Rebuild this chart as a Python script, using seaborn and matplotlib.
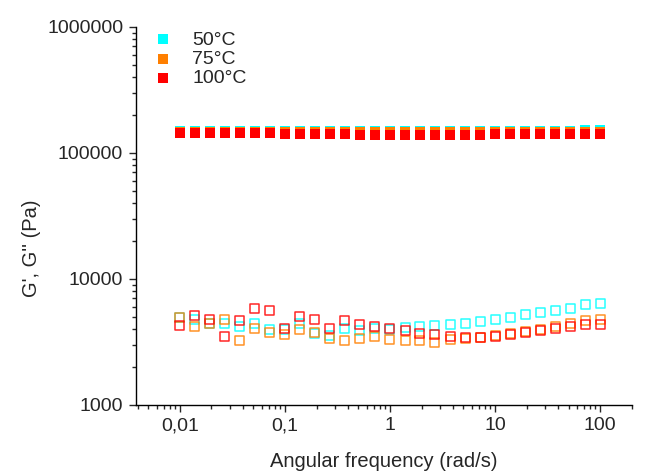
import matplotlib
matplotlib.use("Agg")
import matplotlib.pyplot as plt
import matplotlib.ticker as mticker
import pandas as pd
import seaborn as sns

# angular frequency sweep, 7 points per decade
freq = [0.01, 0.0139, 0.0193, 0.0268, 0.0373, 0.0518, 0.0720,
        0.1, 0.139, 0.193, 0.268, 0.373, 0.518, 0.720,
        1, 1.39, 1.93, 2.68, 3.73, 5.18, 7.20,
        10, 13.9, 19.3, 26.8, 37.3, 51.8, 72.0, 100]

temps = ["50°C", "75°C", "100°C"]
colors = ["#00FFFF", "#FF7F00", "#FF0000"]

# storage modulus G'
g1_50 = [149000] * 27 + [151000, 151000]
g1_75 = [145500] * 29
g1_100 = [145000, 145000, 145000, 145000, 144000, 144000, 143000, 142000,
          142000, 141000, 141000, 141000, 140000, 140000, 140000, 140000,
          140000, 140000, 140000, 140000, 140000, 141000, 141000, 141000,
          141000, 141000, 141000, 141000, 141000]

# loss modulus G''
g2_50 = [4950, 4810, 4470, 4440, 4190, 4470, 3960, 3940, 4440, 3660,
         3550, 4060, 3890, 4010, 3940, 4130, 4210, 4310, 4390, 4470,
         4610, 4750, 4950, 5200, 5370, 5600, 5840, 6240, 6390]
g2_75 = [4950, 4190, 4470, 4810, 3240, 4060, 3770, 3620, 3960, 3770,
         3380, 3240, 3380, 3510, 3300, 3240, 3240, 3150, 3280, 3340,
         3450, 3550, 3660, 3840, 3940, 4210, 4440, 4720, 4810]
g2_100 = [4260, 5110, 4750, 3480, 4670, 5840, 5660, 4010, 5050, 4750,
          4060, 4670, 4390, 4210, 4010, 3890, 3710, 3600, 3510, 3450,
          3450, 3510, 3600, 3730, 3890, 4060, 4210, 4390, 4390]

g1 = [g1_50, g1_75, g1_100]
g2 = [g2_50, g2_75, g2_100]

sns.set_style("ticks")
plt.rcParams["font.family"] = ["Liberation Sans", "DejaVu Sans"]
plt.rcParams["font.size"] = 14

fig = plt.figure(figsize=(6.46, 4.72), dpi=100)
ax = fig.add_axes([0.21, 0.142, 0.768, 0.801])

for t, c, gp, gpp in zip(temps, colors, g1, g2):
    df = pd.DataFrame({"w": freq, "Gp": gp, "Gpp": gpp})
    sns.scatterplot(data=df, x="w", y="Gpp", marker="s", s=42,
                    facecolor="none", edgecolor=c, linewidth=1.1,
                    alpha=0.85, ax=ax, legend=False, zorder=2)
for t, c, gp, gpp in zip(temps, colors, g1, g2):
    df = pd.DataFrame({"w": freq, "Gp": gp, "Gpp": gpp})
    sns.scatterplot(data=df, x="w", y="Gp", marker="s", s=46,
                    color=c, linewidth=0, ax=ax, label=t, zorder=3)

ax.set_xscale("log")
ax.set_yscale("log")
ax.set_xlim(0.0038, 200)
ax.set_ylim(1000, 1000000)

ax.set_xticks([0.01, 0.1, 1, 10, 100])
ax.set_xticklabels(["0,01", "0,1", "1", "10", "100"])
ax.set_yticks([1000, 10000, 100000, 1000000])
ax.set_yticklabels(["1000", "10000", "100000", "1000000"])
ax.xaxis.set_minor_locator(mticker.LogLocator(base=10, subs=range(2, 10), numticks=20))
ax.yaxis.set_minor_locator(mticker.LogLocator(base=10, subs=range(2, 10), numticks=20))
ax.xaxis.set_minor_formatter(mticker.NullFormatter())
ax.yaxis.set_minor_formatter(mticker.NullFormatter())
ax.tick_params(which="major", length=5, width=1, direction="out", labelsize=14, pad=4)
ax.tick_params(which="minor", length=3, width=1, direction="out")

ax.set_xlabel("Angular frequency (rad/s)", fontsize=14.5)
ax.xaxis.set_label_coords(0.5, -0.125)
ax.set_ylabel("G', G'' (Pa)", fontsize=14.5)
ax.yaxis.set_label_coords(-0.19, 0.415)

for sp in ["left", "bottom"]:
    ax.spines[sp].set_linewidth(1)
    ax.spines[sp].set_color("black")
sns.despine(ax=ax)

ax.legend(loc="upper left", frameon=False, fontsize=14, handletextpad=0.5,
          labelspacing=0.08, borderaxespad=0.0, bbox_to_anchor=(0.0, 1.01),
          markerscale=1.0)

fig.savefig("out.png", dpi=100)
